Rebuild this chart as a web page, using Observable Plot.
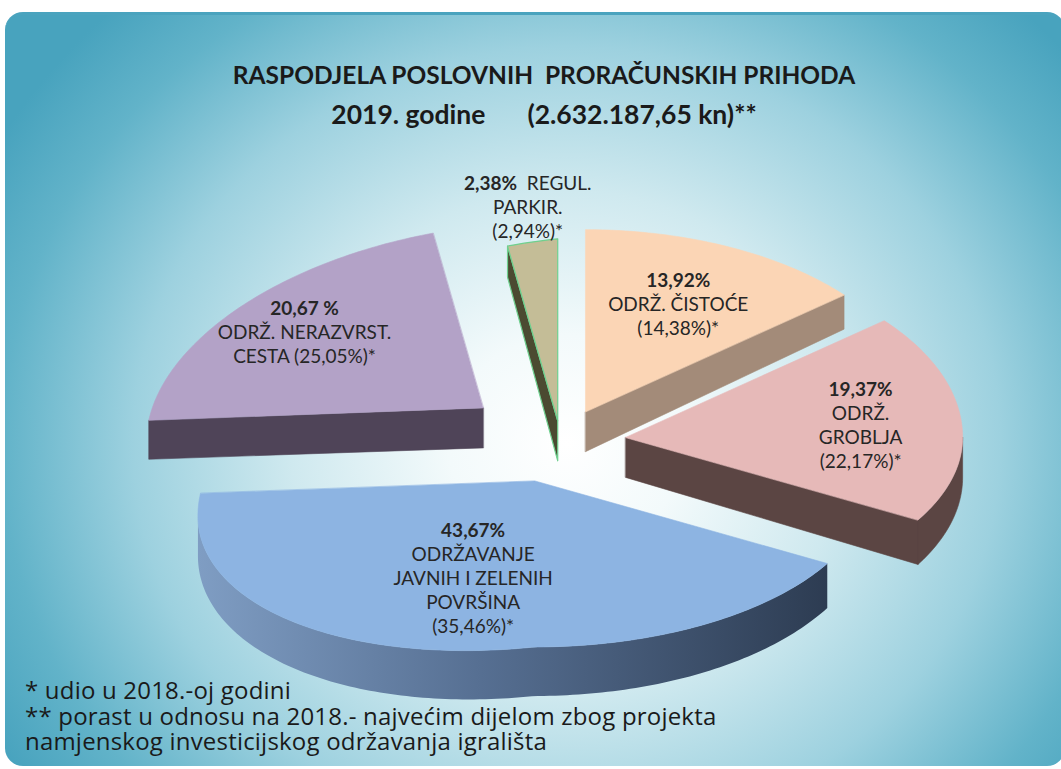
<!DOCTYPE html>
<html>
<head>
<meta charset="utf-8">
<script src="https://cdn.jsdelivr.net/npm/d3@7"></script>
<script src="https://cdn.jsdelivr.net/npm/@observablehq/plot@0.6"></script>
<style>
  html, body { margin: 0; padding: 0; background: #ffffff; overflow: hidden; width: 1061px; height: 769px; }
  #frame {
    position: absolute; left: 5px; top: 12px; width: 1060px; height: 754px;
    border-radius: 18px; box-sizing: border-box; border-top: 3px solid #4aa3be;
    background: radial-gradient(ellipse 62% 80% at 53% 57%, #ffffff 0%, #f3fafb 18%, #cfe9ef 42%, #9dd1df 66%, #62b3c9 86%, #48a3be 100%);
  }
  #chart { position: absolute; left: 0; top: 0; }
  .ttl { position: absolute; left: 0; width: 1088px; text-align: center; white-space: pre;
         font-family: Lato, "Open Sans", sans-serif; font-weight: bold; color: #1a1a1a; line-height: 1.2; }
  #title { top: 60px; font-size: 24.5px; }
  #subtitle { top: 99px; font-size: 26.5px; }
  #subtitle .gap { display: inline-block; width: 42px; }
  #notes { position: absolute; left: 25px; top: 677px; font-family: "Open Sans", Lato, sans-serif;
           font-size: 24px; letter-spacing: 0.2px; line-height: 25.5px; color: #1a1a1a; white-space: pre; }
</style>
</head>
<body>
<div id="frame"></div>
<div id="chart"></div>
<div id="title" class="ttl">RASPODJELA POSLOVNIH  PRORAČUNSKIH PRIHODA</div>
<div id="subtitle" class="ttl">2019. godine<span class="gap"></span>(2.632.187,65 kn)**</div>
<div id="notes">* udio u 2018.-oj godini
** porast u odnosu na 2018.- najvećim dijelom zbog projekta
namjenskog investicijskog održavanja igrališta</div>
<script>
// ---- data ----
const categories = ["ODRŽ. ČISTOĆE", "ODRŽ. GROBLJA", "ODRŽAVANJE JAVNIH I ZELENIH POVRŠINA", "ODRŽ. NERAZVRST. CESTA", "REGUL. PARKIR."];
const share2019 = [13.92, 19.37, 43.67, 20.67, 2.38];
const share2018 = [14.38, 22.17, 35.46, 25.05, 2.94];
// label lines: {p} = 2019 share, {q} = 2018 share
const labelTemplates = [
  ["{p}%", "ODRŽ. ČISTOĆE", "({q}%)*"],
  ["{p}%", "ODRŽ.", "GROBLJA", "({q}%)*"],
  ["{p}%", "ODRŽAVANJE", "JAVNIH I ZELENIH", "POVRŠINA", "({q}%)*"],
  ["{p} %", "ODRŽ. NERAZVRST.", "CESTA ({q}%)*"],
  ["{p}%  REGUL.", "PARKIR.", "({q}%)*"]
];

// ---- style ----
const topColors  = ["#fbd5b5", "#e6b9b8", "#8db4e2", "#b3a2c7", "#c4bd97"];
const sideColors = ["#a38b79", "#5b4543", "url(#javSide)", "#4f4458", "#4b4a31"];
const edgeColors = ["#fbd5b5", "#e6b9b8", "#8db4e2", "#b3a2c7", "#6fd08f"];
const explode    = [0.175, 0.194, 0.24, 0.32, 0.11];
const labelR     = [0.65, 0.70, 0.58, 0.74, 1.19];

const W = 1061, H = 769, U = 337, CX = 560, CY = 440;
const RYB = 182 / U, RYF = 166 / U, TILT = 35 / U, D0 = 40 / U, DV = 9 / U, LH = 24 / U;

const fmt = v => d3.format(".2f")(v).replace(".", ",");

function proj(t, r) {
  const s = Math.sin(t), c = Math.cos(t);
  const ry = c > 0 ? RYB : RYF;
  return [r * s, r * (-ry * c + (s < 0 ? -TILT * s : 0))];
}
const depth = t => D0 - DV * Math.cos(t);

const rows = categories.map((name, i) => ({name, i, share: share2019[i], prev: share2018[i]}));
const arcs = d3.pie().sort(null).value(d => d.share).startAngle(0).endAngle(2 * Math.PI)(rows);

function arcPts(A, t0, t1) {
  const n = Math.max(2, Math.ceil((t1 - t0) / (Math.PI / 180)));
  return d3.range(n + 1).map(k => {
    const t = t0 + (t1 - t0) * k / n;
    const p = proj(t, 1);
    return {x: A[0] + p[0], y: A[1] + p[1], t};
  });
}

const slices = arcs.map(a => {
  const i = a.data.i;
  const mid = (a.startAngle + a.endAngle) / 2;
  const A = proj(mid, explode[i]);
  const faces = [];
  const radial = t => {
    const p = proj(t, 1);
    return [
      {x: A[0], y: A[1]},
      {x: A[0] + p[0], y: A[1] + p[1]},
      {x: A[0] + p[0], y: A[1] + p[1] + depth(t)},
      {x: A[0], y: A[1] + D0}
    ];
  };
  if (Math.sin(a.startAngle) < -1e-6) faces.push(radial(a.startAngle));
  if (Math.sin(a.endAngle) > 1e-6) faces.push(radial(a.endAngle));
  const b0 = Math.max(a.startAngle, Math.PI / 2), b1 = Math.min(a.endAngle, 3 * Math.PI / 2);
  if (b1 > b0) {
    const top = arcPts(A, b0, b1);
    const bot = top.map(p => ({x: p.x, y: p.y + depth(p.t)})).reverse();
    faces.push(top.concat(bot));
  }
  const topPoly = [{x: A[0], y: A[1]}].concat(arcPts(A, a.startAngle, a.endAngle));
  const L = proj(mid, labelR[i]);
  const lines = labelTemplates[i].map(s => s.replace("{p}", fmt(a.data.share)).replace("{q}", fmt(a.data.prev)));
  const labels = lines.map((text, k) => ({text, x: A[0] + L[0], y: A[1] + L[1] + (k - (lines.length - 1) / 2) * LH}));
  return {i, A, faces, topPoly, labels};
});

const order = slices.slice().sort((p, q) => p.A[1] - q.A[1]);
const marks = [];
for (const s of order) {
  for (const f of s.faces) {
    marks.push(Plot.line(f, {x: "x", y: "y", curve: "linear-closed", fill: sideColors[s.i],
      stroke: s.i === 4 ? edgeColors[s.i] : (s.i === 2 ? "none" : sideColors[s.i]), strokeWidth: s.i === 4 ? 1.2 : 0.6}));
  }
  marks.push(Plot.line(s.topPoly, {x: "x", y: "y", curve: "linear-closed", fill: topColors[s.i],
    stroke: edgeColors[s.i], strokeWidth: s.i === 4 ? 1.2 : 0.6}));
}
const labelRows = slices.flatMap(s => s.labels);
marks.push(Plot.text(labelRows, {x: "x", y: "y", text: "text", fontSize: 19, fill: "#262626",
  fontFamily: "Lato, 'Open Sans', sans-serif", textAnchor: "middle"}));

const svg = Plot.plot({
  width: W, height: H, margin: 0,
  x: {domain: [-CX / U, (W - CX) / U], range: [0, W], axis: null},
  y: {domain: [-CY / U, (H - CY) / U], range: [0, H], axis: null},
  style: {background: "transparent", overflow: "visible"},
  marks
});

const defs = d3.select(svg).insert("defs", ":first-child");
const g = defs.append("linearGradient").attr("id", "javSide").attr("x1", 0).attr("x2", 1).attr("y1", 0).attr("y2", 0);
[["0", "#7f9dc3"], ["0.45", "#566f92"], ["1", "#2d3c52"]].forEach(([o, c]) => g.append("stop").attr("offset", o).attr("stop-color", c));

d3.select(svg).selectAll("text").each(function () {
  const t = this.textContent;
  const m = t.match(/^(\d+,\d+ ?%)(.*)$/);
  if (m) {
    this.textContent = "";
    d3.select(this).append("tspan").attr("font-weight", "bold").text(m[1]);
    if (m[2]) d3.select(this).append("tspan").attr("xml:space", "preserve").text(m[2]);
  }
});

document.getElementById("chart").appendChild(svg);
</script>
</body>
</html>
